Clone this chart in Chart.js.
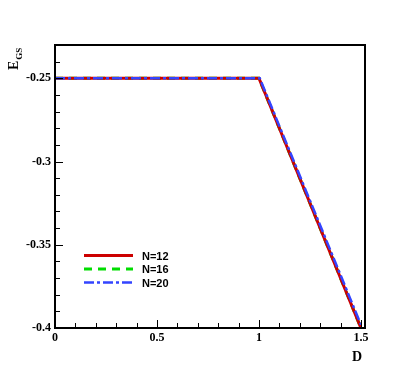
<!DOCTYPE html>
<html>
<head>
<meta charset="utf-8">
<script src="https://cdn.jsdelivr.net/npm/chart.js@4.4.1/dist/chart.umd.min.js"></script>
<style>
  html, body { margin: 0; padding: 0; background: #fff; }
  #wrap { width: 415px; height: 370px; }
</style>
</head>
<body>
<div id="wrap"><canvas id="chart" width="415" height="370"></canvas></div>
<script>
// data
const seriesNames = ['N=12', 'N=16', 'N=20'];
const dValues = [0, 1, 1.5];
const n12 = [-0.25, -0.25, -0.4];
const n16 = [-0.25, -0.25, -0.4];
const n20 = [-0.25, -0.25, -0.398];
const n20D = [0, 1.004, 1.5];
const xTicks = [0, 0.5, 1, 1.5];
const yTicks = [-0.4, -0.35, -0.3, -0.25];

const toPts = (xs, ys) => xs.map((x, i) => ({ x: x, y: ys[i] }));

// inward ticks, frame, axis titles, legend
const decor = {
    id: 'decor',
    afterDraw(chart) {
        const ctx = chart.ctx;
        const a = chart.chartArea;
        const xs = chart.scales.x, ys = chart.scales.y;
        ctx.save();
        ctx.setLineDash([]);
        ctx.lineDashOffset = 0;
        ctx.globalAlpha = 1;
        ctx.strokeStyle = '#000000';
        ctx.lineWidth = 1;
        ctx.beginPath();
        // x ticks
        for (let i = 0; i <= 15; i++) {
            const px = Math.round(xs.getPixelForValue(i / 10)) + 0.5;
            const len = i % 5 === 0 ? 8 : 5;
            ctx.moveTo(px, a.bottom);
            ctx.lineTo(px, a.bottom - len);
        }
        // y ticks
        for (let i = 0; i <= 17; i++) {
            const py = Math.round(ys.getPixelForValue(-0.4 + i / 100)) + 0.5;
            const len = i % 5 === 0 ? 8 : 5;
            ctx.moveTo(a.left, py);
            ctx.lineTo(a.left + len, py);
        }
        ctx.stroke();
        // frame
        ctx.lineWidth = 2;
        ctx.strokeRect(a.left, a.top, a.right - a.left, a.bottom - a.top);

        // axis titles
        ctx.fillStyle = '#000';
        ctx.font = 'bold 14px "Liberation Serif"';
        ctx.textAlign = 'left';
        ctx.textBaseline = 'alphabetic';
        ctx.fillText('D', 352, 361);
        ctx.translate(18, 70);
        ctx.rotate(-Math.PI / 2);
        ctx.fillText('E', 0, 0);
        const w = ctx.measureText('E').width;
        ctx.font = 'bold 9px "Liberation Serif"';
        ctx.fillText('GS', w + 1, 4);
        ctx.setTransform(1, 0, 0, 1, 0, 0);

        // legend
        ctx.font = 'bold 11px "Liberation Sans"';
        ctx.textBaseline = 'middle';
        chart.data.datasets.forEach((ds, i) => {
            const y = 255.5 + i * 13.5;
            ctx.strokeStyle = ds.borderColor;
            ctx.lineWidth = ds.borderWidth;
            ctx.setLineDash(ds.borderDash || []);
            ctx.beginPath();
            ctx.moveTo(84, y);
            ctx.lineTo(133, y);
            ctx.stroke();
            ctx.setLineDash([]);
            ctx.fillStyle = '#000';
            ctx.fillText(ds.label, 142, y + 1);
        });
        ctx.restore();
    }
};

new Chart(document.getElementById('chart'), {
    type: 'line',
    data: {
        datasets: [
            { label: seriesNames[0], data: toPts(dValues, n12), borderColor: '#cc0000', borderWidth: 3, order: 1 },
            { label: seriesNames[1], data: toPts(dValues, n16), borderColor: '#00dd00', borderWidth: 3, borderDash: [8, 6], order: 2 },
            { label: seriesNames[2], data: toPts(n20D, n20), borderColor: '#3344ff', borderWidth: 2.5, borderDash: [10, 3, 3, 3], order: 0 }
        ]
    },
    options: {
        responsive: false,
        animation: false,
        events: [],
        layout: { padding: { left: 0, top: 45, right: 50, bottom: 0 } },
        elements: { point: { radius: 0 }, line: { tension: 0, fill: false } },
        plugins: { legend: { display: false }, tooltip: { enabled: false } },
        scales: {
            x: {
                type: 'linear', min: 0, max: 1.52,
                grid: { display: false, drawTicks: false },
                border: { display: false },
                afterBuildTicks: s => { s.ticks = xTicks.map(v => ({ value: v })); },
                afterFit: s => { s.height = 42; },
                ticks: {
                    color: '#000', padding: 3, maxRotation: 0,
                    font: { family: 'Liberation Serif', weight: 'bold', size: 12 },
                    callback: v => String(v)
                }
            },
            y: {
                type: 'linear', min: -0.4, max: -0.23,
                grid: { display: false, drawTicks: false },
                border: { display: false },
                afterBuildTicks: s => { s.ticks = yTicks.map(v => ({ value: v })); },
                afterFit: s => { s.width = 55; },
                ticks: {
                    color: '#000', padding: 4,
                    font: { family: 'Liberation Serif', weight: 'bold', size: 12 },
                    callback: v => String(v)
                }
            }
        }
    },
    plugins: [decor]
});
</script>
</body>
</html>
